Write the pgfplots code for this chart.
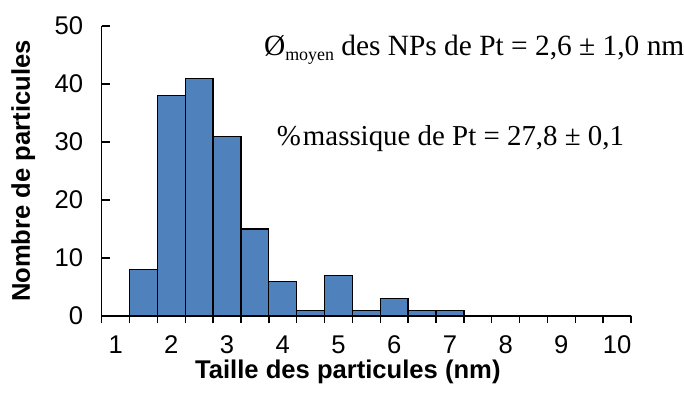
\documentclass[border=0pt]{standalone}
\usepackage{fontspec}
\setmainfont{Liberation Serif}
\newfontfamily\arial{Liberation Sans}
\usepackage{pgfplots}
\pgfplotsset{compat=1.18}
\definecolor{barblue}{RGB}{79,129,189}
\begin{document}
\begin{tikzpicture}[x=1bp,y=1bp]
\useasboundingbox (-101.7,-76) rectangle (582.3,316);
\begin{axis}[
  at={(0,0)}, anchor=south west,
  scale only axis, width=529.3bp, height=290bp,
  xmin=0.75, xmax=10.25, ymin=0, ymax=50,
  clip=false,
  axis lines*=left,
  axis line style={line width=1.4bp, black},
  xtick={1,2,3,4,5,6,7,8,9,10},
  minor xtick={0.75,1.25,1.75,2.25,2.75,3.25,3.75,4.25,4.75,5.25,5.75,6.25,6.75,7.25,7.75,8.25,8.75,9.25,9.75,10.25},
  ytick={0,10,20,30,40,50},
  xtick align=outside, ytick align=inside,
  every tick/.style={black, line width=1.4bp},
  major x tick style={draw=none},
  minor tick length=7bp, major tick length=8bp,
  tick label style={font=\arial\fontsize{25.7}{30}\selectfont, /pgf/number format/assume math mode=true},
  yticklabel style={xshift=-15bp},
  xticklabel style={yshift=-8bp},
  xlabel={Taille des particules (nm)},
  ylabel={Nombre de particules},
  xlabel style={at={(axis description cs:0.465,0)}, anchor=base, yshift=-62bp, font=\arial\bfseries\fontsize{25.7}{30}\selectfont},
  ylabel style={at={(axis description cs:-0.1481,0.5)}, anchor=center, font=\arial\bfseries\fontsize{25.7}{30}\selectfont},
]
\addplot[ybar, bar width=0.5, fill=barblue, draw=black, line width=1.3bp] coordinates {
(1,0) (1.5,8) (2,38) (2.5,41) (3,31) (3.5,15) (4,6) (4.5,1) (5,7) (5.5,1) (6,3) (6.5,1) (7,1)
(7.5,0) (8,0) (8.5,0) (9,0) (9.5,0) (10,0)};
\node[anchor=base west, inner sep=0pt, font=\fontsize{29.5}{32}\selectfont] at (axis cs:3.66,45.0)
  {Ø{\fontsize{18}{18}\selectfont\raisebox{-5bp}{moyen}} des NPs de Pt = 2,6 ± 1,0 nm};
\node[anchor=base west, inner sep=0pt, font=\fontsize{29}{32}\selectfont] at (axis cs:3.891,29.48)
  {\%\hspace{2bp}massique de Pt = 27,8 ± 0,1};
\end{axis}
\end{tikzpicture}
\end{document}
